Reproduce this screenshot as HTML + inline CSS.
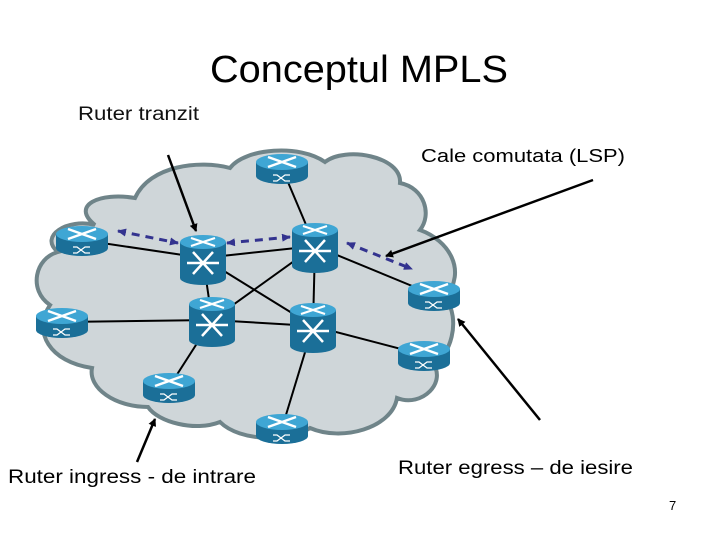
<!DOCTYPE html>
<html><head><meta charset="utf-8"><style>
body{margin:0;background:#fff;width:720px;height:540px;overflow:hidden}
</style></head><body>
<svg width="720" height="540" viewBox="0 0 720 540" xmlns="http://www.w3.org/2000/svg" font-family="Liberation Sans, sans-serif">
<defs>
<g id="rt">
 <path d="M-26,-6 v14 a26,8 0 0 0 52,0 v-14 z" fill="#1b6f98"/>
 <ellipse cx="0" cy="-6" rx="26" ry="8" fill="#3fa6d4"/>
 <path d="M-14,-11 L14,-1 M-14,-1 L14,-11" stroke="#fff" stroke-width="2.5"/>
 <path d="M-9,7 h4 l8,6 h5 M-9,13 h4 l8,-6 h5" stroke="#fff" stroke-width="1.2" fill="none"/>
</g>
<g id="sw">
 <path d="M-23,-16 v36 a23,7 0 0 0 46,0 v-36 z" fill="#1b6f98"/>
 <ellipse cx="0" cy="-16" rx="23" ry="7" fill="#3fa6d4"/>
 <path d="M-12,-20 L12,-12 M-12,-12 L12,-20" stroke="#fff" stroke-width="2.2"/>
 <path d="M-10,-6 L10,16 M10,-6 L-10,16 M-16,5 h32" stroke="#fff" stroke-width="2.5" fill="none"/>
</g>
<marker id="ah" markerWidth="8" markerHeight="8" refX="7" refY="4" orient="auto" markerUnits="userSpaceOnUse"><path d="M0,0 L8,4 L0,8 z" fill="#000"/></marker>
<marker id="bh" markerWidth="9" markerHeight="8" refX="8" refY="4" orient="auto" markerUnits="userSpaceOnUse"><path d="M0,0 L9,4 L0,8 z" fill="#33338f"/></marker>
<marker id="bt" markerWidth="9" markerHeight="8" refX="1" refY="4" orient="auto" markerUnits="userSpaceOnUse"><path d="M9,0 L0,4 L9,8 z" fill="#33338f"/></marker>
</defs>
<text x="210" y="82" font-size="38" textLength="298" lengthAdjust="spacingAndGlyphs">Conceptul MPLS</text>
<text x="78" y="120" font-size="19" font-weight="bold" fill="#111" textLength="121" lengthAdjust="spacingAndGlyphs" style="font-weight:normal">Ruter tranzit</text>
<text x="421" y="162" font-size="18" textLength="204" lengthAdjust="spacingAndGlyphs">Cale comutata (LSP)</text>
<text x="8" y="483" font-size="19" textLength="248" lengthAdjust="spacingAndGlyphs">Ruter ingress - de intrare</text>
<text x="398" y="474" font-size="19" textLength="235" lengthAdjust="spacingAndGlyphs">Ruter egress – de iesire</text>
<text x="669" y="510" font-size="13">7</text>
<path d="M95,225 C70,205 100,192 135,198 C150,165 200,160 230,168 C245,148 300,144 325,162 C345,146 402,156 400,183 C425,188 432,215 420,230 C448,240 468,270 445,298 C462,318 450,360 432,362 C448,382 422,408 397,398 C392,428 342,442 310,428 C290,442 240,442 220,422 C195,432 158,422 148,407 C115,407 88,388 92,368 C50,362 32,332 50,305 C28,290 35,258 58,252 C38,236 68,218 95,225 z" fill="#cfd6d9" stroke="#6f8489" stroke-width="4"/>
<g stroke="#000" stroke-width="2">
 <line x1="282" y1="168" x2="315" y2="246"/>
 <line x1="82" y1="240" x2="203" y2="258"/>
 <line x1="203" y1="258" x2="315" y2="246"/>
 <line x1="203" y1="258" x2="212" y2="320"/>
 <line x1="203" y1="258" x2="313" y2="326"/>
 <line x1="315" y1="246" x2="212" y2="320"/>
 <line x1="315" y1="246" x2="313" y2="326"/>
 <line x1="315" y1="246" x2="434" y2="295"/>
 <line x1="62" y1="322" x2="212" y2="320"/>
 <line x1="212" y1="320" x2="313" y2="326"/>
 <line x1="212" y1="320" x2="169" y2="387"/>
 <line x1="313" y1="326" x2="424" y2="355"/>
 <line x1="313" y1="326" x2="282" y2="428"/>
</g>
<use href="#rt" x="282" y="168"/>
<use href="#rt" x="82" y="240"/>
<use href="#rt" x="62" y="322"/>
<use href="#rt" x="169" y="387"/>
<use href="#rt" x="282" y="428"/>
<use href="#rt" x="434" y="295"/>
<use href="#rt" x="424" y="355"/>
<use href="#sw" x="203" y="258"/>
<use href="#sw" x="315" y="246"/>
<use href="#sw" x="212" y="320"/>
<use href="#sw" x="313" y="326"/>
<g stroke="#33338f" stroke-width="3" stroke-dasharray="8,6" fill="none">
 <line x1="118" y1="231" x2="178" y2="243" marker-start="url(#bt)" marker-end="url(#bh)"/>
 <line x1="227" y1="243" x2="290" y2="237" marker-start="url(#bt)" marker-end="url(#bh)"/>
 <line x1="347" y1="243" x2="412" y2="269" marker-start="url(#bt)" marker-end="url(#bh)"/>
</g>
<g stroke="#000" stroke-width="2.5">
 <line x1="168" y1="155" x2="196" y2="231" marker-end="url(#ah)"/>
 <line x1="593" y1="180" x2="386" y2="256" marker-end="url(#ah)"/>
 <line x1="540" y1="420" x2="458" y2="319" marker-end="url(#ah)"/>
 <line x1="137" y1="462" x2="155" y2="419" marker-end="url(#ah)"/>
</g>
</svg>
</body></html>
